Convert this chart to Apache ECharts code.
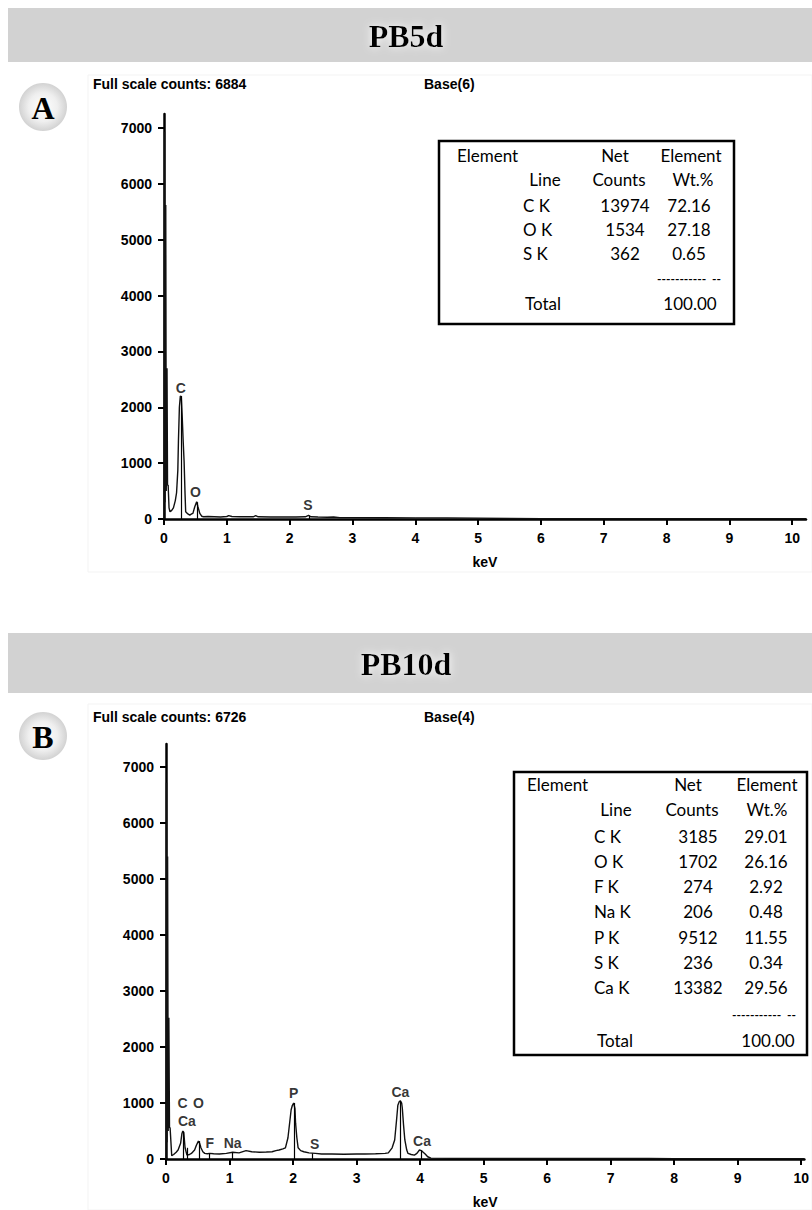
<!DOCTYPE html>
<html>
<head>
<meta charset="utf-8">
<script src="https://cdn.jsdelivr.net/npm/echarts@6/dist/echarts.min.js"></script>
<style>
html,body{margin:0;padding:0;background:#fff;}
#c{width:812px;height:1210px;}
</style>
</head>
<body>
<div id="c"></div>
<script>
// ---------- DATA ----------
const titleA = 'PB5d';
const titleB = 'PB10d';
const fullScaleA = 'Full scale counts: 6884';
const fullScaleB = 'Full scale counts: 6726';
const baseA = 'Base(6)';
const baseB = 'Base(4)';
const xTicks = [0,1,2,3,4,5,6,7,8,9,10];
const yTicks = [0,1000,2000,3000,4000,5000,6000,7000];

// spectrum A (keV, counts)
const specA = [[0,0],[0.008,6930],[0.016,300],[0.028,5620],[0.036,500],[0.048,2700],[0.056,600],[0.066,610],[0.08,200],[0.095,130],[0.12,150],[0.15,200],[0.18,330],[0.2,470],[0.22,870],[0.23,1400],[0.245,2000],[0.26,2200],[0.275,2190],[0.29,1830],[0.305,1400],[0.32,1030],[0.335,450],[0.345,130],[0.38,90],[0.41,70],[0.44,90],[0.46,100],[0.49,220],[0.52,310],[0.54,220],[0.57,100],[0.6,50],[0.63,40],[0.7,45],[0.8,40],[0.9,35],[1.0,45],[1.03,60],[1.08,45],[1.2,40],[1.3,40],[1.42,40],[1.46,60],[1.5,40],[1.7,35],[1.9,35],[2.1,35],[2.25,40],[2.3,65],[2.34,40],[2.45,35],[2.6,30],[2.7,35],[2.8,25],[3.0,25],[3.5,22],[4.0,20],[4.5,20],[5.0,15],[5.5,10],[6,5],[7,5],[8,5],[9,5],[10.22,5]];
const markEnergyA = [0.277, 0.525, 2.307];
const markHeightA = [2200, 300, 60];
const markLabelA = ['C','O','S'];
const markLabelPosA = [[0.266,2340],[0.5,480],[2.29,250]];

// spectrum B (keV, counts)
const specB = [[0,0],[0.008,6720],[0.016,300],[0.025,5400],[0.035,500],[0.045,2520],[0.055,570],[0.065,550],[0.09,60],[0.12,80],[0.16,120],[0.19,160],[0.23,280],[0.25,450],[0.265,500],[0.28,470],[0.3,200],[0.33,70],[0.37,80],[0.4,100],[0.45,160],[0.48,250],[0.51,320],[0.53,280],[0.55,200],[0.58,130],[0.61,100],[0.65,95],[0.69,100],[0.75,95],[0.84,90],[0.95,100],[1.05,120],[1.15,110],[1.26,150],[1.35,130],[1.47,120],[1.58,125],[1.67,130],[1.73,150],[1.78,160],[1.84,180],[1.88,200],[1.92,380],[1.94,580],[1.97,880],[1.99,960],[2.01,1000],[2.03,900],[2.04,640],[2.06,380],[2.08,200],[2.12,150],[2.17,130],[2.25,110],[2.35,100],[2.45,90],[2.61,90],[2.8,85],[3.0,90],[3.13,90],[3.3,95],[3.45,100],[3.5,110],[3.56,200],[3.6,340],[3.63,700],[3.65,960],[3.67,1020],[3.69,1040],[3.71,1000],[3.72,910],[3.74,600],[3.76,340],[3.79,160],[3.81,100],[3.86,80],[3.91,70],[3.95,100],[3.99,160],[4.02,150],[4.04,130],[4.08,90],[4.12,40],[4.17,15],[4.5,12],[5,10],[6,10],[7,10],[7.6,8],[8,5],[9,5],[10.05,5]];
const markEnergyB = [0.277, 0.341, 0.525, 0.677, 1.041, 2.013, 2.307, 3.69, 4.012];
const markHeightB = [490, 200, 320, 100, 120, 1000, 100, 1040, 150];
const markLabelB = ['C','O','Ca','F','Na','P','S','Ca','Ca'];
const markLabelPosB = [[0.26,1000],[0.51,1000],[0.33,670],[0.69,290],[1.05,290],[2.01,1180],[2.34,270],[3.69,1190],[4.03,320]];

// tables
const tableHeadTop = ['Element','Net','Element'];
const tableHeadBot = ['Line','Counts','Wt.%'];
const elemA = ['C K','O K','S K'];
const countsA = [13974, 1534, 362];
const wtA = ['72.16','27.18','0.65'];
const elemB = ['C K','O K','F K','Na K','P K','S K','Ca K'];
const countsB = [3185, 1702, 274, 206, 9512, 236, 13382];
const wtB = ['29.01','26.16','2.92','0.48','11.55','0.34','29.56'];
const totalLabel = 'Total';
const totalValue = '100.00';

// ---------- RENDER ----------
const chart = echarts.init(document.getElementById('c'), null, {renderer:'svg', width:812, height:1210});
const TICKFONT = 'Liberation Sans, Arial, sans-serif';
const TABFONT = 'Lato, "Open Sans", sans-serif';

function txt(text, x, y, font, align, extra){
  return Object.assign({type:'text', z:100, style:Object.assign({text:text, x:x, y:y, font:font, fill:'#000', textAlign:align||'left', textVerticalAlign:'middle', align:align||'left', verticalAlign:'middle'}, extra||{})});
}

function header(y0, h, title, cy, letter){
  const g = [];
  g.push({type:'rect', z:90, shape:{x:8,y:y0,width:804,height:h}, style:{fill:'#d2d2d2'}});
  g.push(txt(title, 406, y0+h/2+1, 'bold 32px "Liberation Serif", "Times New Roman", serif', 'center', {textShadowColor:'#ffffff', textShadowBlur:8}));
  g.push({type:'circle', z:90, shape:{cx:43, cy:cy, r:24}, style:{fill:{type:'radial', x:0.5, y:0.5, r:0.5, colorStops:[{offset:0,color:'#ffffff'},{offset:0.6,color:'#efefef'},{offset:1,color:'#d2d2d2'}]}}});
  g.push(txt(letter, 43, cy+1, 'bold 32px "Liberation Serif", "Times New Roman", serif', 'center'));
  return g;
}

function table(box, col, rows, elems, counts, wts){
  const g = [];
  g.push({type:'rect', z:95, shape:{x:box.x, y:box.y, width:box.w, height:box.h}, style:{fill:'#fff', stroke:'#000', lineWidth:2.5}});
  const F = '17px ' + TABFONT;
  g.push(txt(tableHeadTop[0], col.elemL, rows.h1, F, 'left'));
  g.push(txt(tableHeadTop[1], col.netC, rows.h1, F, 'center'));
  g.push(txt(tableHeadTop[2], col.wtH, rows.h1, F, 'center'));
  g.push(txt(tableHeadBot[0], col.lineC, rows.h2, F, 'center'));
  g.push(txt(tableHeadBot[1], col.cntH, rows.h2, F, 'center'));
  g.push(txt(tableHeadBot[2], col.wtH2, rows.h2, F, 'center'));
  elems.forEach(function(e, i){
    const y = rows.r0 + i*rows.step;
    g.push(txt(e, col.rowL, y, F, 'left'));
    g.push(txt(String(counts[i]), col.cntC, y, F, 'center'));
    g.push(txt(wts[i], col.wtC, y, F, 'center'));
  });
  g.push(txt('-----------  --', col.dashL, rows.dash, 'bold 12px ' + TABFONT, 'left'));
  g.push(txt(totalLabel, col.totL, rows.tot, F, 'left'));
  g.push(txt(totalValue, col.totC, rows.tot, F, 'center'));
  return g;
}

const graphics = [].concat(
  header(8, 54, titleA, 107, 'A'),
  header(633, 60, titleB, 736, 'B'),
  [
    {type:'rect', z:1, shape:{x:88,y:75,width:724,height:497}, style:{fill:'none', stroke:'#f3f3f3', lineWidth:1}},
    {type:'rect', z:1, shape:{x:88,y:704,width:724,height:506}, style:{fill:'none', stroke:'#f3f3f3', lineWidth:1}},
    txt(fullScaleA, 93, 84, 'bold 14px ' + TICKFONT, 'left'),
    txt(baseA, 424, 84, 'bold 14px ' + TICKFONT, 'left'),
    txt(fullScaleB, 93, 717, 'bold 14px ' + TICKFONT, 'left'),
    txt(baseB, 424, 717, 'bold 14px ' + TICKFONT, 'left')
  ],
  table({x:439,y:141,w:295,h:183},
        {elemL:457, netC:615, wtH:691, lineC:545, cntH:619, wtH2:693, rowL:523, cntC:625, wtC:689, dashL:657, totL:525, totC:690},
        {h1:155, h2:179.5, r0:205.5, step:24.2, dash:278, tot:303},
        elemA, countsA, wtA),
  table({x:514,y:772,w:293,h:283},
        {elemL:527, netC:688, wtH:767, lineC:616, cntH:692, wtH2:767, rowL:594, cntC:698, wtC:766, dashL:732, totL:597, totC:768},
        {h1:784, h2:809, r0:836, step:25.3, dash:1014, tot:1040},
        elemB, countsB, wtB)
);

function xAxis(gi, max){
  return {type:'value', gridIndex:gi, min:0, max:max, interval:1,
    name:'keV', nameLocation:'middle', nameGap:36,
    nameTextStyle:{fontFamily:TICKFONT, fontWeight:'bold', fontSize:14, color:'#000', verticalAlign:'top'},
    axisLine:{show:true, onZero:false, lineStyle:{color:'#000', width:2.5}},
    axisTick:{show:true, inside:false, length:6, lineStyle:{color:'#000', width:2}, customValues:xTicks},
    axisLabel:{show:true, margin:12, fontFamily:TICKFONT, fontWeight:'bold', fontSize:14, color:'#000', customValues:xTicks,
      formatter:function(v){return Number.isInteger(v) ? String(v) : '';}},
    splitLine:{show:false}};
}
function yAxis(gi, max){
  return {type:'value', gridIndex:gi, min:0, max:max, interval:1000,
    axisLine:{show:true, onZero:false, lineStyle:{color:'#000', width:2.5}},
    axisTick:{show:true, inside:false, length:6, lineStyle:{color:'#000', width:2}, customValues:yTicks},
    axisLabel:{show:true, margin:12, fontFamily:TICKFONT, fontWeight:'bold', fontSize:14, color:'#000', customValues:yTicks,
      formatter:function(v){return v % 1000 === 0 ? String(v) : '';}},
    splitLine:{show:false}};
}

function markLines(energies, heights){
  return {silent:true, symbol:['none','none'], label:{show:false},
    lineStyle:{color:'#000', width:1.2, type:'solid'},
    data: energies.map(function(e,i){return [{coord:[e,0]},{coord:[e,heights[i]]}];})};
}
function labelSeries(gi, labels, pos){
  return {type:'scatter', xAxisIndex:gi, yAxisIndex:gi, symbolSize:1, silent:true, z:5,
    itemStyle:{color:'rgba(0,0,0,0)'},
    label:{show:true, position:'inside', formatter:function(p){return labels[p.dataIndex];},
      fontFamily:TICKFONT, fontWeight:'bold', fontSize:14, color:'#000'},
    data: pos};
}

chart.setOption({
  animation:false,
  backgroundColor:'#ffffff',
  grid:[
    {left:164, top:114, width:642, height:405},
    {left:166, top:744, width:646, height:415}
  ],
  xAxis:[xAxis(0, 10.22), xAxis(1, 10.05)],
  yAxis:[yAxis(0, 7250), yAxis(1, 7410)],
  series:[
    {type:'line', xAxisIndex:0, yAxisIndex:0, data:specA, showSymbol:false, symbol:'none', sampling:null,
      lineStyle:{color:'#111', width:1.4}, markLine:markLines(markEnergyA, markHeightA), z:3},
    labelSeries(0, markLabelA, markLabelPosA),
    {type:'line', xAxisIndex:1, yAxisIndex:1, data:specB, showSymbol:false, symbol:'none', sampling:null,
      lineStyle:{color:'#111', width:1.4}, markLine:markLines(markEnergyB, markHeightB), z:3},
    labelSeries(1, markLabelB, markLabelPosB)
  ],
  graphic: graphics
});
</script>
</body>
</html>
